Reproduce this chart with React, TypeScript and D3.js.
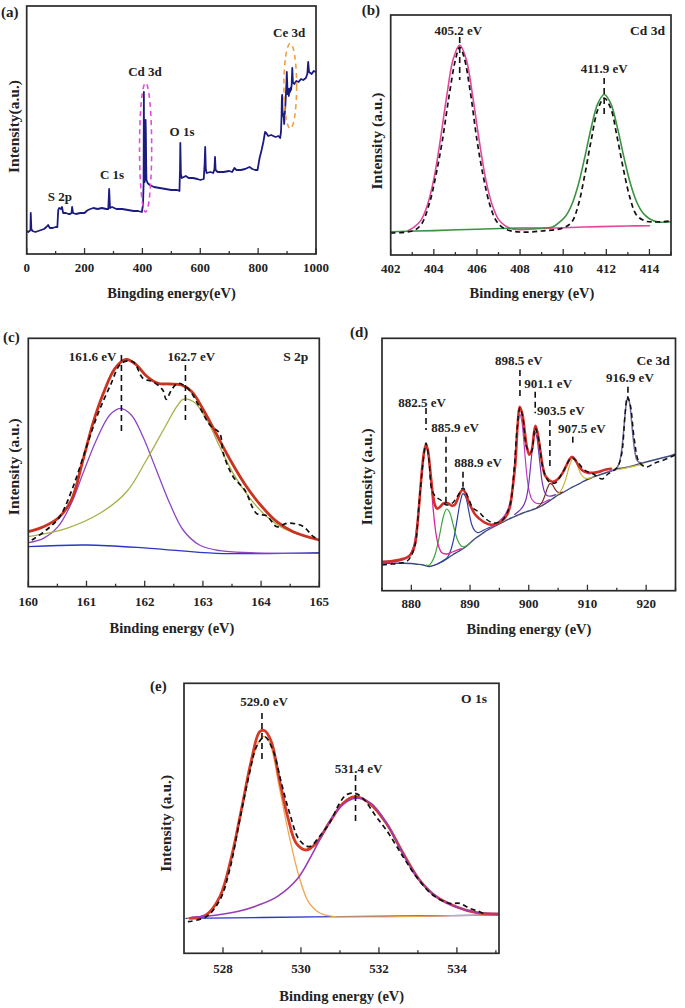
import React from 'react';
import * as d3 from 'd3';

type Pt = [number, number];

// ================= DATA =================
// (a) XPS survey spectrum  [binding energy (eV), intensity (a.u.)]
const surveyTicks = [0, 200, 400, 600, 800, 1000];
const surveyMinor = [100, 300, 500, 700, 900];
const survey: Pt[] = [
  [0, 23], [5, 22], [10, 23], [13, 24], [14, 41], [16, 25], [20, 23], [30, 22], [40, 23], [50, 24], [60, 25],
  [68, 27], [74, 29], [80, 26], [90, 26], [100, 27], [106, 27], [109, 44], [112, 46], [118, 45], [122, 47],
  [126, 41], [135, 41], [145, 40], [150, 40], [155, 41], [157, 47], [160, 41], [170, 40], [185, 41], [200, 41],
  [207, 43], [212, 44], [220, 45], [230, 46], [245, 45], [260, 46], [275, 45], [282, 45], [285, 65], [288, 46],
  [295, 47], [310, 45], [330, 45], [350, 44], [370, 43], [385, 43], [398, 42], [402, 49], [404, 70], [405, 162],
  [406, 75], [407, 128], [408, 72], [409, 130], [410, 78], [411, 134], [412, 120], [413, 90], [414, 74],
  [418, 71], [425, 69], [440, 67], [460, 66], [480, 65], [500, 64], [520, 64], [528, 63], [530, 85], [531, 111],
  [533, 80], [536, 76], [550, 78], [560, 76], [575, 76], [590, 75], [600, 74], [612, 75], [615, 90], [617, 107],
  [619, 85], [622, 81], [635, 82], [645, 81], [649, 85], [651, 97], [653, 84], [660, 82], [680, 82], [700, 83],
  [710, 82], [718, 86], [725, 84], [740, 84], [755, 85], [770, 87], [780, 85], [790, 84], [798, 84], [805, 96],
  [812, 104], [818, 112], [824, 122], [828, 121], [835, 118], [845, 119], [860, 117], [870, 118], [876, 116],
  [879, 122], [881, 138], [882, 155], [883, 159], [884, 145], [886, 138], [888, 140], [890, 130], [892, 140],
  [894, 148], [896, 160], [898, 172], [899, 182], [900, 175], [902, 160], [904, 165], [906, 158], [908, 165],
  [910, 162], [912, 166], [914, 164], [916, 170], [918, 186], [920, 172], [925, 170], [932, 173], [940, 172],
  [948, 175], [956, 174], [965, 176], [970, 180], [973, 192], [976, 182], [985, 180], [992, 183], [1000, 182],
];
const surveyLabels = [
  { text: 'S 2p', e: 115, i: 53 },
  { text: 'C 1s', e: 295, i: 75 },
  { text: 'Cd 3d', e: 409, i: 178 },
  { text: 'O 1s', e: 537, i: 118 },
  { text: 'Ce 3d', e: 907, i: 217 },
];
// ellipse marks: centre energy, centre intensity, half-width (eV), half-height (a.u.)
const surveyRegions = [
  { e: 411, i: 106.5, re: 21, ri: 64.5, color: '#e04ee0' },
  { e: 911, i: 168, re: 22, ri: 42.5, color: '#f0a040' },
];

// (b) Cd 3d
const cdTicks = [402, 404, 406, 408, 410, 412, 414];
const cdMinor = [403, 405, 407, 409, 411, 413, 415];
const cdExp: Pt[] = [
  [402, 22], [403, 24], [403.4, 30], [403.8, 52], [404.1, 80], [404.4, 115], [404.7, 158], [405, 195],
  [405.2, 208], [405.4, 198], [405.7, 162], [406, 115], [406.3, 78], [406.6, 50], [406.9, 34], [407.3, 26],
  [408, 23], [409, 24], [410, 27], [410.4, 33], [410.7, 50], [411, 80], [411.3, 115], [411.6, 145],
  [411.9, 157], [412.2, 147], [412.5, 118], [412.8, 85], [413.1, 57], [413.4, 40], [413.8, 34], [414.2, 33],
  [415, 34],
];
const cd52: Pt[] = [
  [402.8, 24.3], [403.1, 28.2], [403.4, 34.6], [403.7, 49.7], [404, 75.8], [404.3, 114.9], [404.6, 159],
  [404.9, 196], [405.2, 210], [405.5, 196.1], [405.8, 159.2], [406.1, 115.3], [406.4, 76.4], [406.7, 50.5],
  [407, 35.6], [407.3, 29.4], [407.7, 25.8], [409, 26.5], [411, 28], [413, 29], [414, 29.2],
];
const cd32: Pt[] = [
  [402, 23.3], [404, 24.4], [406, 25.8], [408, 27], [409.5, 28], [409.8, 32.3], [410.1, 38.4], [410.4, 50.5],
  [410.7, 70.3], [411, 97.6], [411.3, 127.4], [411.6, 151.2], [411.9, 160.5], [412.2, 151.8], [412.5, 128.6],
  [412.8, 99.4], [413.1, 72.7], [413.4, 53.5], [413.7, 41.9], [414, 36.3], [414.4, 33], [415, 33.3],
];

// (c) S 2p
const sTicks = [160, 161, 162, 163, 164, 165];
const sMinor = [160.5, 161.5, 162.5, 163.5, 164.5];
const sExp: Pt[] = [
  [160.06, 46.7], [160.31, 56.7], [160.54, 70], [160.77, 100], [161, 140], [161.2, 173.4], [161.4, 200],
  [161.6, 223.4], [161.8, 225], [161.97, 208.4], [162.14, 205], [162.31, 196.7], [162.37, 187.4], [162.46, 196.7],
  [162.57, 203.4], [162.74, 198.4], [162.94, 180], [163.12, 161.7], [163.29, 153.4], [163.35, 133.4],
  [163.52, 110], [163.72, 96.7], [163.92, 73.4], [164.1, 70.7], [164.27, 60], [164.44, 63.4], [164.61, 62.7],
  [164.73, 60], [164.9, 50], [165, 46.7],
];
const sFit: Pt[] = [
  [160, 55], [160.26, 60], [160.51, 68.4], [160.74, 86.7], [160.94, 126.7], [161.11, 163.4], [161.29, 193.4],
  [161.49, 218.4], [161.68, 227.4], [161.86, 221.7], [162.03, 210.7], [162.23, 203.4], [162.43, 202.7],
  [162.63, 201.7], [162.81, 195], [163.01, 176.7], [163.24, 151.7], [163.47, 126.7], [163.73, 101.7],
  [163.99, 81.7], [164.27, 65], [164.55, 55], [165, 46.7],
];
const s161: Pt[] = [
  [160, 44], [160.26, 48.4], [160.51, 60], [160.74, 83.4], [160.94, 113.4], [161.17, 146.7], [161.4, 171.7],
  [161.58, 178.4], [161.77, 171.7], [161.97, 150], [162.2, 116.7], [162.43, 83.4], [162.66, 56.7],
  [162.94, 41.7], [163.29, 36], [163.81, 34], [165, 33.4],
];
const s162: Pt[] = [
  [160, 50], [160.66, 58.4], [161.23, 73.4], [161.69, 95], [162.03, 126.7], [162.32, 156.7], [162.55, 180],
  [162.66, 187.4], [162.84, 185], [163.07, 166.7], [163.29, 140], [163.52, 113.4], [163.81, 88.4],
  [164.1, 70], [164.44, 56.7], [164.98, 47.4],
];
const sBg: Pt[] = [[160, 40], [161, 41.7], [162.09, 38.4], [163.24, 33.4], [165, 34]];

// (d) Ce 3d
const ceTicks = [880, 890, 900, 910, 920];
const ceMinor = [875, 885, 895, 905, 915, 925];
const ceExp: Pt[] = [
  [875, 25.7], [876.5, 26.5], [878, 27.7], [879.3, 29.7], [880.5, 42.7], [881.3, 85.7], [882, 128.7],
  [882.5, 147.7], [883, 130.7], [883.5, 100.7], [884.2, 93.7], [885, 90.7], [886, 85.7], [887, 87.7],
  [888, 95.7], [888.8, 102.7], [889.5, 95.7], [890.5, 82.7], [891.5, 78.7], [892.5, 72.7], [894, 67.7],
  [895.5, 70.7], [896.8, 85.7], [897.5, 120.7], [898, 160.7], [898.5, 182.7], [899, 172.7], [899.7, 142.7],
  [900.4, 138.7], [901.1, 162.7], [901.7, 150.7], [902.5, 120.7], [903.5, 108.7], [904.5, 107.7],
  [905.8, 118.7], [907.3, 132.7], [908.3, 128.7], [909.5, 120.7], [911, 116.7], [912.5, 111.7],
  [913.5, 116.7], [915, 122.7], [915.8, 135.7], [916.4, 175.7], [916.8, 193.7], [917.3, 185.7],
  [918, 150.7], [918.8, 128.7], [920, 123.7], [921.5, 127.7], [923, 130.7], [925, 135.7],
];
const ceFit: Pt[] = [
  [875, 29], [876.5, 29.5], [878, 31], [879.2, 33], [880, 37], [880.6, 46], [881, 64], [881.3, 84],
  [881.6, 106], [881.9, 126], [882.2, 140], [882.5, 146], [882.8, 141], [883.1, 127], [883.4, 110],
  [883.7, 95], [884, 86], [884.4, 82], [884.9, 84], [885.4, 87], [885.9, 88], [886.4, 87], [886.9, 85],
  [887.4, 86], [887.9, 92], [888.4, 99], [888.8, 101], [889.2, 98], [889.7, 90], [890.3, 82], [890.9, 76],
  [891.6, 72], [892.5, 68], [893.5, 66], [894.5, 67], [895.5, 70], [896.3, 76], [896.8, 84], [897.2, 100],
  [897.7, 126], [898.1, 165], [898.45, 184], [898.9, 177], [899.3, 160], [899.7, 143], [900.1, 136],
  [900.5, 140], [900.9, 158], [901.15, 165], [901.5, 158], [901.9, 143], [902.3, 127], [902.8, 115],
  [903.4, 111], [904, 109], [904.6, 110], [905.2, 113], [905.8, 118], [906.4, 125], [906.9, 131],
  [907.4, 134], [907.9, 131], [908.5, 125], [909.2, 120], [910, 118], [911, 118], [912, 119], [913, 121],
  [914, 122],
];
const ceBg: Pt[] = [
  [875, 27.4], [878, 27.4], [880, 27.2], [881, 26.5], [882, 25.7], [883, 24.2], [884, 25.7], [885, 28.2],
  [886, 31.7], [887, 35.7], [888, 39.2], [889, 42.7], [890, 47.7], [891, 52.7], [892, 56.7], [893, 60.7],
  [894, 63.7], [895, 66.7], [896, 69.7], [897, 72.7], [898, 75.2], [899, 77.7], [900, 79.7], [901, 81.7],
  [902, 84.2], [903, 87.7], [904, 91.7], [905, 95.7], [906, 98.7], [907, 102.2], [908, 105.2], [909, 108.2],
  [910, 111.2], [911, 113.7], [912, 115.7], [913, 117.7], [914, 119.7], [915, 121.7], [916, 122.7],
  [917, 123.7], [918, 125.2], [919, 127.2], [920, 128.7], [921, 130.2], [922, 131.7], [923, 133.2],
  [924, 134.7], [925, 136.7],
];
const ce8825: Pt[] = [
  [875, 27.5], [877, 28.8], [878.5, 30.8], [879.5, 34.2], [880.3, 43], [880.7, 54], [881, 66.8], [881.3, 84.4],
  [881.6, 106], [881.9, 125.8], [882.2, 140], [882.5, 145], [882.8, 139.6], [883.1, 124.3], [883.4, 104.6],
  [883.7, 83], [884, 65.7], [884.3, 53.4], [884.7, 43.5], [885.2, 37.9], [886, 36.7], [887, 38.7], [888.5, 42],
];
const ce8859: Pt[] = [
  [882.5, 25.5], [883, 25.4], [883.5, 28.8], [884, 35.4], [884.5, 46.8], [885, 61.4], [885.5, 75], [886, 81.7],
  [886.5, 78.7], [887, 68.9], [887.5, 57.3], [888, 48.9], [888.5, 44.8], [889, 43.9], [890, 47.7],
];
const ce8889: Pt[] = [
  [884.5, 27], [885.8, 31.4], [886.3, 34.7], [886.8, 42], [887.3, 54], [887.8, 71], [888.3, 88], [888.8, 97],
  [889.3, 93], [889.8, 79], [890.3, 66], [890.8, 60], [891.3, 58], [892, 59.5], [893, 62.5], [894, 64.5],
];
const ce8985: Pt[] = [
  [893.5, 62.5], [895, 69.7], [895.9, 75.4], [896.5, 82.2], [896.9, 91.4], [897.3, 108.5], [897.6, 128.2],
  [897.9, 151], [898.2, 168.7], [898.5, 176.5], [898.8, 170.2], [899.1, 154], [899.4, 132.7], [899.7, 114],
  [900.1, 98.9], [900.5, 91.7], [901.1, 88], [902, 87.2], [903.5, 91.2],
];
const ce9011: Pt[] = [
  [897.6, 76.2], [898.5, 80.5], [899.1, 85.1], [899.5, 90.7], [899.9, 102.5], [900.2, 118.1], [900.5, 135.7],
  [900.8, 151.3], [901.1, 158], [901.4, 152.8], [901.7, 138.4], [902, 122.2], [902.3, 108.2], [902.7, 98.6],
  [903.1, 95.1], [903.7, 94.5], [904.6, 96.1],
];
const ce9035: Pt[] = [
  [901.4, 83.3], [902, 86], [902.4, 89.9], [902.8, 96], [903.2, 103], [903.6, 107.1], [904, 106.2],
  [904.4, 102.3], [904.8, 99.2], [905.2, 98.1], [905.8, 98.6],
];
const ce9075: Pt[] = [
  [904.9, 96.3], [905.5, 100.2], [906, 106.2], [906.5, 115.5], [907, 126.2], [907.5, 131.7], [908, 129.2],
  [908.5, 121.7], [909, 115.7], [909.5, 112.7], [910.1, 112.4], [911, 113.7],
];
const ce9169: Pt[] = [
  [913.5, 118.7], [914.9, 122.5], [915.4, 127.1], [915.7, 135.4], [916, 149.7], [916.3, 169], [916.6, 186.3],
  [916.9, 193.6], [917.2, 187], [917.5, 170.5], [917.8, 151.9], [918.1, 138.4], [918.4, 131], [918.9, 128],
  [919.5, 128],
];
const ce9169Bg: Pt[] = [[914.5, 120.5], [916.5, 122.5], [919.5, 126.5]];

// (e) O 1s
const oTicks = [528, 530, 532, 534];
const oMinor = [529, 531, 533, 535];
const oExp: Pt[] = [
  [527.1, 31.6], [527.57, 36.6], [527.92, 53.3], [528.17, 83.3], [528.43, 133.3], [528.68, 180], [528.86, 206.6],
  [529.07, 216.6], [529.28, 203.3], [529.5, 170], [529.71, 140], [529.96, 113.3], [530.22, 106.6],
  [530.47, 116.6], [530.73, 130], [530.99, 150], [531.16, 158.3], [531.38, 160], [531.59, 155],
  [531.93, 136.6], [532.19, 123.3], [532.62, 96.6], [532.96, 76.6], [533.38, 58.3], [533.81, 50],
  [534.07, 50], [534.32, 45], [534.58, 41.6], [534.75, 38.3],
];
const oFit: Pt[] = [
  [527.15, 35], [527.57, 38.3], [527.92, 56.6], [528.22, 96.6], [528.47, 143.3], [528.73, 193.3],
  [528.94, 221.6], [529.07, 222.6], [529.24, 211.6], [529.45, 173.3], [529.67, 135], [529.88, 110],
  [530.14, 103.3], [530.39, 110], [530.74, 131.6], [531.08, 150], [531.38, 156.6], [531.76, 150],
  [532.19, 130], [532.62, 100], [533.04, 73.3], [533.47, 56.6], [533.98, 46.6], [534.5, 40.6], [535.05, 39.3],
];
const o529: Pt[] = [
  [527.1, 35], [527.5, 37.5], [527.9, 55], [528.2, 92], [528.45, 138], [528.7, 185], [528.9, 210], [529.05, 217],
  [529.2, 210], [529.45, 165], [529.7, 117], [529.95, 77], [530.2, 51], [530.5, 40], [530.8, 37], [531.5, 36.5],
  [533, 37], [535.05, 38.5],
];
const o531: Pt[] = [
  [527.2, 36], [527.8, 38], [528.4, 42], [528.9, 48], [529.4, 57], [529.9, 74], [530.3, 100], [530.65, 126],
  [531, 146], [531.4, 155], [531.8, 150], [532.2, 130], [532.6, 101], [533, 75], [533.5, 56], [534, 46],
  [534.5, 41], [535.05, 39.5],
];
const oBg: Pt[] = [[527.05, 35], [529, 35.8], [531, 36.6], [533, 37.3], [535.05, 38.3]];

// ================= LAYOUT / STYLE =================
const FONT = 'Liberation Serif, Times New Roman, serif';
const DASH = '5,3.5';
const TXT: React.CSSProperties = { fontFamily: FONT, fontWeight: 700 };

interface Frame { l: number; t: number; r: number; b: number }

function scales(f: Frame, xd: [number, number]) {
  const x = d3.scaleLinear().domain(xd).range([f.l, f.r]);
  const y = d3.scaleLinear().domain([0, f.b - f.t]).range([f.b, f.t]);
  return { x, y };
}

const curveSmooth = d3.curveCatmullRom.alpha(0.5);

function Curve(props: {
  data: Pt[]; x: d3.ScaleLinear<number, number>; y: d3.ScaleLinear<number, number>;
  color: string; width: number; dash?: string; linear?: boolean;
}) {
  const gen = d3.line<Pt>().x(d => props.x(d[0])).y(d => props.y(d[1]))
    .curve(props.linear ? d3.curveLinear : curveSmooth);
  return (
    <path d={gen(props.data) || ''} fill="none" stroke={props.color} strokeWidth={props.width}
      strokeDasharray={props.dash} strokeLinejoin="round" strokeLinecap={props.dash ? 'butt' : 'round'} />
  );
}

function Axes(props: {
  f: Frame; x: d3.ScaleLinear<number, number>; major: number[]; minor: number[];
  tickY: number; title: string; titleX: number; titleY: number; yTitleX: number; yTitleY: number;
  yTitle: string; panel: string; panelX: number; panelY: number;
}) {
  const { f, x } = props;
  return (
    <g style={TXT} fill="#222">
      {props.major.map(v => (
        <line key={'M' + v} x1={x(v)} x2={x(v)} y1={f.b} y2={f.b - 6} stroke="#333" strokeWidth={1.3} />
      ))}
      {props.minor.map(v => (
        <line key={'m' + v} x1={x(v)} x2={x(v)} y1={f.b} y2={f.b - 3} stroke="#333" strokeWidth={1.3} />
      ))}
      <rect x={f.l} y={f.t} width={f.r - f.l} height={f.b - f.t} fill="none" stroke="#2a2a2a" strokeWidth={1.7} />
      {props.major.map(v => (
        <text key={'t' + v} x={x(v)} y={props.tickY} textAnchor="middle" fontSize={13}>{String(v)}</text>
      ))}
      <text x={props.titleX} y={props.titleY} textAnchor="middle" fontSize={14.5}>{props.title}</text>
      <text transform={`translate(${props.yTitleX},${props.yTitleY}) rotate(-90)`} textAnchor="middle"
        dominantBaseline="central" fontSize={15.5}>{props.yTitle}</text>
      <text x={props.panelX} y={props.panelY} fontSize={15}>{props.panel}</text>
    </g>
  );
}

interface Ann { text: string; e: number; dx: number; ty: number; line: [number, number]; anchor?: string }

function Annotations(props: { anns: Ann[]; x: d3.ScaleLinear<number, number>; y: d3.ScaleLinear<number, number> }) {
  const { x, y } = props;
  return (
    <g style={TXT} fill="#222">
      {props.anns.map(a => (
        <g key={a.text}>
          <line x1={x(a.e)} x2={x(a.e)} y1={y(a.line[0])} y2={y(a.line[1])} stroke="#111" strokeWidth={1.6}
            strokeDasharray="6,4" />
          <text x={x(a.e) + a.dx} y={y(a.ty)} textAnchor={(a.anchor as any) || 'middle'} fontSize={13}>{a.text}</text>
        </g>
      ))}
    </g>
  );
}

const fA: Frame = { l: 26.7, t: 6, r: 316, b: 254 };
const fB: Frame = { l: 390.7, t: 15, r: 671, b: 255 };
const fC: Frame = { l: 28.3, t: 338.3, r: 319.3, b: 586.7 };
const fD: Frame = { l: 382, t: 338.3, r: 675.5, b: 590.7 };
const fE: Frame = { l: 184, t: 683.3, r: 499, b: 953.3 };

const annB: Ann[] = [
  { text: '405.2 eV', e: 405.2, dx: -1.4, ty: 220, line: [218, 175] },
  { text: '411.9 eV', e: 411.9, dx: 0, ty: 182, line: [177, 140] },
];
const annC: Ann[] = [
  { text: '161.6 eV', e: 161.6, dx: -5, ty: 225.7, line: [231.7, 151.7], anchor: 'end' },
  { text: '162.7 eV', e: 162.7, dx: 6, ty: 226, line: [221.7, 166.7] },
];
const annD: Ann[] = [
  { text: '882.5 eV', e: 882.5, dx: -4, ty: 184, line: [182.7, 160.7] },
  { text: '885.9 eV', e: 885.9, dx: 9, ty: 159, line: [154, 87.4] },
  { text: '888.9 eV', e: 888.8, dx: 15, ty: 124, line: [119, 104] },
  { text: '898.5 eV', e: 898.5, dx: -1, ty: 225.7, line: [220.7, 190.7] },
  { text: '901.1 eV', e: 901.1, dx: 13, ty: 202.7, line: [199, 177.4] },
  { text: '903.5 eV', e: 903.6, dx: 11, ty: 175.7, line: [170.7, 120.7] },
  { text: '907.5 eV', e: 907.5, dx: 9, ty: 157.7, line: [154, 144] },
  { text: '916.9 eV', e: 916.9, dx: 2, ty: 209, line: [204, 190.7] },
];
const annE: Ann[] = [
  { text: '529.0 eV', e: 529.0, dx: 2, ty: 247.3, line: [240.3, 191.6] },
  { text: '531.4 eV', e: 531.4, dx: 3, ty: 180.3, line: [178.3, 128.3] },
];

function Clip({ id, f }: { id: string; f: Frame }) {
  return (
    <clipPath id={id}>
      <rect x={f.l} y={f.t} width={f.r - f.l} height={f.b - f.t} />
    </clipPath>
  );
}

function Corner({ f, text, dr, dt }: { f: Frame; text: string; dr: number; dt: number }) {
  return (
    <text x={f.r - dr} y={f.t + dt} textAnchor="end" style={TXT} fontSize={13.5} fill="#222">{text}</text>
  );
}

export default function App() {
  const A = scales(fA, [0, 1000]);
  const B = scales(fB, [402, 415]);
  const C = scales(fC, [160, 165]);
  const D = scales(fD, [875, 925]);
  const E = scales(fE, [527, 535.08]);

  return (
    <svg width={685} height={1008} style={{ position: 'absolute', left: 0, top: 0, background: '#fff' }}>
      <defs>
        <Clip id="cA" f={fA} />
        <Clip id="cB" f={fB} />
        <Clip id="cC" f={fC} />
        <Clip id="cD" f={fD} />
        <Clip id="cE" f={fE} />
      </defs>
      <rect x={0} y={0} width={685} height={1008} fill="#fff" />

      {/* (a) survey */}
      <g clipPath="url(#cA)">
        <Curve data={survey} x={A.x} y={A.y} color="#1c1c80" width={1.8} linear />
      </g>
      {surveyRegions.map((r, k) => (
        <ellipse key={k} cx={A.x(r.e)} cy={A.y(r.i)} rx={A.x(r.e + r.re) - A.x(r.e)} ry={A.y(0) - A.y(r.ri)}
          fill="none" stroke={r.color} strokeWidth={1.6} strokeDasharray="5,4" />
      ))}
      <g style={TXT} fill="#222">
        {surveyLabels.map(l => (
          <text key={l.text} x={A.x(l.e)} y={A.y(l.i)} textAnchor="middle" fontSize={13}>{l.text}</text>
        ))}
      </g>
      <Axes f={fA} x={A.x} major={surveyTicks} minor={surveyMinor} tickY={272}
        title="Bingding energy(eV)" titleX={171.5} titleY={298} yTitle="Intensity(a.u.)" yTitleX={13} yTitleY={126.5}
        panel="(a)" panelX={1} panelY={17} />

      {/* (b) Cd 3d */}
      <g clipPath="url(#cB)">
        <Curve data={cd52} x={B.x} y={B.y} color="#e2479d" width={1.6} />
        <Curve data={cd32} x={B.x} y={B.y} color="#3c9240" width={1.6} />
        <Curve data={cdExp} x={B.x} y={B.y} color="#111" width={1.7} dash={DASH} />
      </g>
      <Annotations anns={annB} x={B.x} y={B.y} />
      <Corner f={fB} text="Cd 3d" dr={6} dt={20} />
      <Axes f={fB} x={B.x} major={cdTicks} minor={cdMinor} tickY={273}
        title="Binding energy (eV)" titleX={532} titleY={298} yTitle="Intensity (a.u.)" yTitleX={376} yTitleY={141}
        panel="(b)" panelX={361.7} panelY={15} />

      {/* (c) S 2p */}
      <g clipPath="url(#cC)">
        <Curve data={sBg} x={C.x} y={C.y} color="#2b36c4" width={1.3} />
        <Curve data={s161} x={C.x} y={C.y} color="#8c44c8" width={1.3} />
        <Curve data={s162} x={C.x} y={C.y} color="#a9b048" width={1.3} />
        <Curve data={sFit} x={C.x} y={C.y} color="#cc3220" width={2.8} />
        <Curve data={sExp} x={C.x} y={C.y} color="#111" width={1.7} dash={DASH} />
      </g>
      <Annotations anns={annC} x={C.x} y={C.y} />
      <Corner f={fC} text="S 2p" dr={11} dt={23} />
      <Axes f={fC} x={C.x} major={sTicks} minor={sMinor} tickY={606}
        title="Binding energy (eV)" titleX={172} titleY={633} yTitle="Intensity (a.u.)" yTitleX={13.3} yTitleY={466.7}
        panel="(c)" panelX={3} panelY={342} />

      {/* (d) Ce 3d */}
      <g clipPath="url(#cD)">
        <Curve data={ceBg} x={D.x} y={D.y} color="#3f4a7c" width={1.4} />
        <Curve data={ce8889} x={D.x} y={D.y} color="#2f3fa6" width={1.2} />
        <Curve data={ce8859} x={D.x} y={D.y} color="#3fa33f" width={1.2} />
        <Curve data={ce8825} x={D.x} y={D.y} color="#e0259a" width={1.3} />
        <Curve data={ce8985} x={D.x} y={D.y} color="#c436c4" width={1.2} />
        <Curve data={ce9011} x={D.x} y={D.y} color="#7434b0" width={1.2} />
        <Curve data={ce9035} x={D.x} y={D.y} color="#7c2a2a" width={1.2} />
        <Curve data={ce9075} x={D.x} y={D.y} color="#c8b43c" width={1.2} />
        <Curve data={ce9169Bg} x={D.x} y={D.y} color="#d2c23a" width={1.3} />
        <Curve data={ceFit} x={D.x} y={D.y} color="#d22f2a" width={2.6} />
        <Curve data={ce9169} x={D.x} y={D.y} color="#76669e" width={1.5} />
        <Curve data={ceExp} x={D.x} y={D.y} color="#111" width={1.5} dash={DASH} />
      </g>
      <Annotations anns={annD} x={D.x} y={D.y} />
      <Corner f={fD} text="Ce 3d" dr={5.7} dt={27} />
      <Axes f={fD} x={D.x} major={ceTicks} minor={ceMinor} tickY={608}
        title="Binding energy (eV)" titleX={529} titleY={634} yTitle="Intensity (a.u.)" yTitleX={366.7} yTitleY={476.7}
        panel="(d)" panelX={350} panelY={337} />

      {/* (e) O 1s */}
      <g clipPath="url(#cE)">
        <Curve data={oBg} x={E.x} y={E.y} color="#2b36c4" width={1.3} />
        <Curve data={o529} x={E.x} y={E.y} color="#f0a650" width={1.3} />
        <Curve data={oFit} x={E.x} y={E.y} color="#d63a28" width={2.8} />
        <Curve data={o531} x={E.x} y={E.y} color="#9a3cb4" width={1.6} />
        <Curve data={oExp} x={E.x} y={E.y} color="#111" width={1.7} dash={DASH} />
      </g>
      <Annotations anns={annE} x={E.x} y={E.y} />
      <Corner f={fE} text="O 1s" dr={12} dt={20} />
      <Axes f={fE} x={E.x} major={oTicks} minor={oMinor} tickY={973}
        title="Binding energy (eV)" titleX={341.7} titleY={1001} yTitle="Intensity (a.u.)" yTitleX={165} yTitleY={823.3}
        panel="(e)" panelX={150} panelY={691} />
    </svg>
  );
}
